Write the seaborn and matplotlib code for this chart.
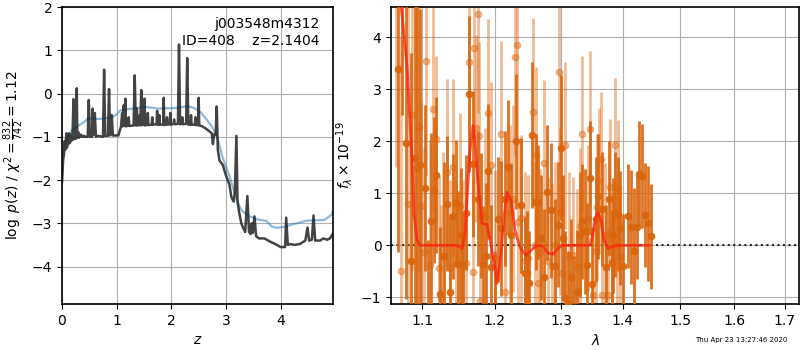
import time
import numpy as np
import pandas as pd
import matplotlib
matplotlib.use("Agg")
import matplotlib.pyplot as plt
from matplotlib.ticker import FixedLocator, FixedFormatter, NullLocator
import seaborn as sns

# ---------------- redshift probability ----------------
z_grid = [0.00, 0.02, 0.04, 0.05, 0.06, 0.08, 0.09, 0.11, 0.13, 0.14, 0.16, 0.18, 0.19,
          0.21, 0.22, 0.24, 0.25, 0.27, 0.28, 0.30, 0.31, 0.35, 0.36, 0.40, 0.41, 0.47,
          0.49, 0.51, 0.55, 0.56, 0.58, 0.60, 0.62, 0.66, 0.75, 0.77, 0.79, 0.84, 0.86,
          0.88, 0.91, 0.93, 1.03, 1.07, 1.08, 1.10, 1.11, 1.13, 1.14, 1.16, 1.17, 1.21,
          1.22, 1.23, 1.31, 1.33, 1.35, 1.37, 1.38, 1.41, 1.42, 1.43, 1.45, 1.47, 1.50,
          1.51, 1.52, 1.56, 1.57, 1.58, 1.64, 1.65, 1.66, 1.73, 1.74, 1.75, 1.77, 1.78,
          1.79, 1.85, 1.86, 1.87, 1.91, 1.92, 1.93, 1.97, 1.98, 1.99, 2.04, 2.05, 2.06,
          2.12, 2.14, 2.16, 2.19, 2.20, 2.21, 2.27, 2.29, 2.31, 2.35, 2.36, 2.37, 2.43,
          2.44, 2.45, 2.49, 2.50, 2.51, 2.55, 2.62, 2.69, 2.74, 2.76, 2.78, 2.81, 2.83,
          2.85, 2.88, 2.94, 3.00, 3.06, 3.10, 3.14, 3.16, 3.19, 3.21, 3.24, 3.28, 3.31,
          3.35, 3.39, 3.42, 3.45, 3.47, 3.49, 3.52, 3.55, 3.60, 3.70, 3.80, 3.90, 4.00,
          4.08, 4.10, 4.13, 4.17, 4.25, 4.35, 4.45, 4.49, 4.52, 4.57, 4.60, 4.63, 4.72,
          4.78, 4.85, 4.90, 4.96]
log_pz = [-2.05, -1.55, -1.35, -1.10, -1.30, -0.92, -1.25, -1.15, -0.92, -1.15, -1.10, -0.95, -1.08,
          -0.13, -1.05, -0.95, -1.05, 0.12, -1.02, -0.90, -1.02, -0.95, -1.00, -0.98, -1.00, -1.00,
          -0.15, -1.00, -1.00, -0.35, -0.95, -0.45, -1.00, -0.98, -1.00, 0.55, -0.98, -0.98, 0.10,
          -0.97, -0.50, -0.97, -0.97, -0.80, -0.76, -0.45, -0.76, -0.27, -0.75, -0.12, -0.76, -0.74,
          -0.55, -0.75, -0.74, 0.42, -0.74, -0.35, -0.74, -0.72, -0.50, -0.74, 0.08, -0.73, -0.72,
          -0.12, -0.74, -0.72, -0.45, -0.73, -0.72, -0.55, -0.72, -0.71, -0.40, -0.72, -0.72, -0.50,
          -0.72, -0.72, -0.10, -0.73, -0.71, -0.55, -0.72, -0.71, -0.45, -0.72, -0.70, -0.60, -0.71,
          -0.70, 1.13, -0.71, -0.70, -0.55, -0.71, -0.70, 0.82, -0.72, -0.72, -0.50, -0.72, -0.72,
          -0.55, -0.73, -0.73, -0.10, -0.74, -0.75, -0.80, -0.87, -0.92, -1.17, -0.95, -0.95, -0.30,
          -1.30, -1.55, -1.65, -1.90, -2.10, -2.40, -2.50, -2.30, -0.98, -2.50, -2.75, -3.00, -3.10,
          -3.20, -2.37, -3.20, -3.25, -3.00, -3.22, -2.84, -3.30, -3.35, -3.35, -3.42, -3.48, -3.55,
          -3.55, -2.87, -3.50, -3.48, -3.50, -3.48, -3.40, -3.10, -3.40, -3.38, -2.82, -3.40, -3.40,
          -3.35, -3.38, -3.35, -3.23]

z_chi = [0.00, 0.05, 0.11, 0.18, 0.26, 0.35, 0.41, 0.47, 0.55, 0.68, 0.80, 0.92, 0.98, 1.07,
         1.15, 1.28, 1.40, 1.53, 1.65, 1.77, 1.90, 2.01, 2.12, 2.26, 2.36, 2.44, 2.55, 2.63,
         2.72, 2.81, 2.87, 2.93, 3.00, 3.06, 3.15, 3.24, 3.30, 3.37, 3.45, 3.55, 3.65, 3.73,
         3.78, 3.83, 3.90, 3.98, 4.08, 4.17, 4.30, 4.47, 4.60, 4.72, 4.80, 4.87, 4.93, 4.96]
log_chi = [-1.45, -1.20, -1.00, -0.85, -0.78, -0.70, -0.66, -0.58, -0.58, -0.59, -0.57, -0.55,
           -0.50, -0.39, -0.37, -0.35, -0.33, -0.31, -0.33, -0.35, -0.34, -0.34, -0.33, -0.30,
           -0.31, -0.35, -0.45, -0.58, -0.72, -0.92, -1.15, -1.45, -1.70, -1.90, -2.27, -2.60,
           -2.72, -2.79, -2.85, -2.90, -2.93, -2.94, -3.00, -3.07, -3.10, -3.10, -3.08, -3.04,
           -3.00, -2.94, -2.93, -2.93, -2.92, -2.86, -2.80, -2.71]

# ---------------- grism spectrum ----------------
wave_a = [1.0688, 1.0740, 1.0791, 1.0850, 1.0908, 1.0934, 1.0974, 1.1040, 1.1080, 1.1119,
          1.1159, 1.1186, 1.1240, 1.1290, 1.1330, 1.1376, 1.1417, 1.1458, 1.1490, 1.1527,
          1.1560, 1.1596, 1.1638, 1.1694, 1.1760, 1.1807, 1.1835, 1.1878, 1.1907, 1.1950,
          1.2000, 1.2050, 1.2094, 1.2150, 1.2200, 1.2240, 1.2313, 1.2387, 1.2447, 1.2477,
          1.2510, 1.2552, 1.2612, 1.2643, 1.2688, 1.2730, 1.2780, 1.2841, 1.2900, 1.2950,
          1.2997, 1.3028, 1.3059, 1.3100, 1.3150, 1.3200, 1.3250, 1.3290, 1.3329, 1.3377,
          1.3410, 1.3458, 1.3491, 1.3550, 1.3588, 1.3650, 1.3720, 1.3768, 1.3818, 1.3835,
          1.3870, 1.3918, 1.3951, 1.4000, 1.4086, 1.4137, 1.4190, 1.4239, 1.4274, 1.4325,
          1.4377, 1.4429, 1.4481]
flux_a = [3.38, 5.50, 1.96, -0.30, 1.67, 1.48, 1.54, 1.10, -1.40, 0.46,
          1.06, 1.35, -0.94, -0.20, 0.80, -0.90, 0.56, 0.82, -0.35, 0.19,
          -0.40, 0.63, 2.90, 1.56, 0.90, 0.58, -0.35, -0.21, 1.42, -0.42,
          -1.30, 0.50, 0.33, 0.90, 1.50, 0.19, 2.00, 0.77, -0.54, -0.54,
          -0.73, 2.12, 0.83, 0.83, 0.15, -0.60, 1.02, 0.67, -0.40, 0.40,
          1.88, 0.15, -1.02, -1.10, -0.60, -1.20, -0.90, 0.20, 0.46, 0.27,
          -0.38, 1.29, -0.75, 0.50, 0.94, 0.70, -0.42, 0.90, -0.33, 0.19,
          0.60, 0.60, 0.33, -0.40, 0.56, 0.35, -0.10, 0.35, 1.38, 1.33,
          0.58, 0.42, 0.17]
err_a = [3.5, 3.0, 3.0, 4.0, 3.0, 3.5, 3.0, 1.6, 1.5, 1.7,
         1.4, 1.5, 1.3, 1.8, 1.3, 1.5, 1.2, 1.2, 1.4, 1.3,
         1.0, 1.1, 1.5, 1.4, 1.3, 1.2, 1.1, 1.4, 1.3, 1.2,
         1.2, 1.2, 1.3, 1.3, 1.3, 1.4, 1.3, 1.3, 1.1, 1.2,
         1.0, 1.4, 1.3, 1.1, 1.2, 1.3, 1.3, 1.3, 1.3, 1.2,
         1.4, 1.2, 1.3, 1.0, 1.1, 1.0, 1.2, 1.2, 1.1, 1.2,
         1.2, 1.1, 1.1, 1.2, 1.2, 1.1, 1.2, 1.1, 1.0, 1.1,
         1.2, 1.1, 1.1, 1.0, 1.0, 1.1, 1.2, 1.0, 1.0, 1.0,
         1.0, 1.1, 1.0]

wave_b = [1.0660, 1.0720, 1.0810, 1.0870, 1.0960, 1.0990, 1.1026, 1.1053, 1.1106, 1.1146,
          1.1186, 1.1220, 1.1254, 1.1281, 1.1335, 1.1380, 1.1417, 1.1460, 1.1513, 1.1550,
          1.1596, 1.1640, 1.1694, 1.1708, 1.1736, 1.1764, 1.1779, 1.1793, 1.1864, 1.1900,
          1.1950, 1.2000, 1.2094, 1.2150, 1.2225, 1.2269, 1.2299, 1.2328, 1.2343, 1.2387,
          1.2440, 1.2492, 1.2560, 1.2597, 1.2612, 1.2643, 1.2673, 1.2734, 1.2800, 1.2850,
          1.2903, 1.2966, 1.2981, 1.3012, 1.3059, 1.3120, 1.3185, 1.3248, 1.3296, 1.3329,
          1.3425, 1.3458, 1.3500, 1.3554, 1.3571, 1.3604, 1.3637, 1.3653, 1.3703, 1.3752,
          1.3785, 1.3818, 1.3868, 1.3900, 1.3918, 1.3951]
flux_b = [5.00, -0.50, 0.80, 2.50, 2.27, 0.75, -0.12, 3.54, -0.37, 2.62,
          2.04, -0.44, -1.02, -0.21, 1.40, -0.44, 1.50, -0.35, 0.75, -0.35,
          -0.33, 3.52, -0.52, 3.79, 2.25, 4.44, 2.10, -1.06, 0.56, 2.54,
          1.54, -0.25, 2.13, -0.90, 0.62, 0.90, 3.62, 3.85, 0.44, 0.52,
          -0.30, -0.25, 2.56, 0.00, 1.73, -0.73, -0.13, 1.58, -0.30, -0.40,
          0.00, 3.33, 0.65, -0.54, 1.92, -0.20, -0.19, -0.42, 0.38, 2.13,
          0.52, 2.23, -0.96, -0.10, 0.73, 1.23, 1.65, -0.96, 0.19, -0.96,
          1.12, -0.29, 1.92, 0.00, 1.10, -0.23]
err_b = [3.5, 4.5, 4.0, 3.0, 2.8, 2.0, 2.0, 2.2, 2.4, 2.0,
         1.6, 1.8, 1.8, 2.0, 1.8, 1.7, 1.7, 1.6, 1.8, 1.6,
         1.7, 1.9, 1.8, 1.8, 1.8, 1.9, 1.8, 1.7, 1.7, 1.8,
         1.6, 1.7, 1.8, 1.6, 1.7, 1.8, 1.9, 1.8, 1.6, 1.6,
         1.7, 1.6, 1.8, 1.6, 1.7, 1.6, 1.6, 1.6, 1.6, 1.6,
         1.6, 1.8, 1.6, 1.5, 1.6, 1.6, 1.5, 1.5, 1.5, 1.5,
         1.4, 1.5, 1.4, 1.4, 1.4, 1.4, 1.3, 1.4, 1.4, 1.3,
         1.3, 1.3, 1.3, 1.3, 1.3, 1.3]

wave_model = [1.0700, 1.0739, 1.0804, 1.0869, 1.0895, 1.0934, 1.0974, 1.1100, 1.1300, 1.1450,
              1.1500, 1.1541, 1.1580, 1.1610, 1.1652, 1.1694, 1.1722, 1.1764, 1.1821, 1.1892,
              1.1935, 1.2007, 1.2036, 1.2094, 1.2137, 1.2181, 1.2240, 1.2299, 1.2373, 1.2462,
              1.2552, 1.2628, 1.2719, 1.2795, 1.2873, 1.2950, 1.3012, 1.3200, 1.3458, 1.3506,
              1.3554, 1.3588, 1.3637, 1.3686, 1.3752, 1.3835, 1.3901, 1.4200, 1.4463]
flux_model = [4.90, 4.42, 3.42, 1.63, 0.60, 0.10, 0.00, 0.00, 0.00, 0.00,
              -0.02, -0.06, 0.20, 0.87, 1.83, 2.30, 2.00, 1.20, 0.42, 0.40,
              0.10, -0.42, -0.73, -0.15, 0.54, 1.02, 0.87, 0.29, -0.04, -0.19,
              -0.08, 0.00, -0.02, -0.15, -0.17, -0.06, 0.00, 0.00, 0.00, 0.23,
              0.54, 0.63, 0.48, 0.10, -0.06, -0.02, 0.00, 0.00, 0.00]

# ---------------- labels ----------------
field_name = "j003548m4312"
source_id = 408
z_best = 2.1404
chi2_num, chi2_den = 832, 742
wave_ticks = [1.1, 1.2, 1.3, 1.4, 1.5, 1.6, 1.7]

sns.set_style("ticks", {"axes.grid": True, "grid.color": "#b0b0b0",
                        "axes.edgecolor": "black", "xtick.color": "black",
                        "ytick.color": "black", "text.color": "black",
                        "axes.labelcolor": "black"})
plt.rcParams["font.family"] = ["DejaVu Sans"]
plt.rcParams["font.size"] = 10
plt.rcParams["mathtext.fontset"] = "dejavusans"

fig = plt.figure(figsize=(8, 3.5), dpi=100)
ax1 = fig.add_axes([0.0775, 0.131, 0.339, 0.849])
ax2 = fig.add_axes([0.489, 0.131, 0.510, 0.849])

# left: log p(z)
df_pz = pd.DataFrame({"z": z_grid, "logp": log_pz})
df_chi = pd.DataFrame({"z": z_chi, "logp": log_chi})
sns.lineplot(data=df_chi, x="z", y="logp", ax=ax1, color="#1f77b4", alpha=0.5,
             linewidth=1.6, sort=False, estimator=None)
sns.lineplot(data=df_pz, x="z", y="logp", ax=ax1, color="#222222", alpha=0.85,
             linewidth=1.8, sort=False, estimator=None)
ax1.set_xlim(0, 4.96)
ax1.set_ylim(-4.87, 2.0)
ax1.set_xlabel(r"$z$")
ax1.set_ylabel(r"$\log\ p(z)$ / $\chi^2=\frac{%d}{%d}=%.2f$"
               % (chi2_num, chi2_den, chi2_num / chi2_den))
ax1.text(0.95, 0.965, "%s\nID=%d    z=%.4f" % (field_name, source_id, z_best),
         transform=ax1.transAxes, ha="right", va="top", fontsize=10)
ax1.grid(True, color="#b0b0b0", linewidth=0.8)

# right: spectrum
ax2.axhline(0, color="k", linestyle=":", linewidth=1.5, alpha=0.8, zorder=1)
ax2.errorbar(wave_b, flux_b, yerr=err_b, marker="o", markersize=4.5, linestyle="none",
             color="#e06a10", alpha=0.45, elinewidth=2, capsize=0, zorder=2)
ax2.errorbar(wave_a, flux_a, yerr=err_a, marker="o", markersize=4.5, linestyle="none",
             color="#d9650c", alpha=0.9, elinewidth=2, capsize=0, zorder=3)
df_model = pd.DataFrame({"wave": wave_model, "flux": flux_model})
sns.lineplot(data=df_model, x="wave", y="flux", ax=ax2, color="#ff2010", alpha=0.75,
             linewidth=2, sort=False, estimator=None, zorder=4)
ax2.set_xscale("log")
ax2.set_xlim(1.06, 1.73)
ax2.set_ylim(-1.13, 4.58)
ax2.xaxis.set_major_locator(FixedLocator(wave_ticks))
ax2.xaxis.set_major_formatter(FixedFormatter(["%.1f" % w for w in wave_ticks]))
ax2.xaxis.set_minor_locator(NullLocator())
ax2.set_xlabel(r"$\lambda$")
ax2.set_ylabel(r"$f_\lambda \times 10^{-19}$")
ax2.grid(True, color="#b0b0b0", linewidth=0.8)

for ax in (ax1, ax2):
    for s in ax.spines.values():
        s.set_color("black")
        s.set_linewidth(1.2)
    ax.tick_params(direction="out", length=3.5, width=0.8)

fig.text(0.984, 0.02, "Thu Apr 23 13:27:46 2020", ha="right", va="bottom", fontsize=5)

fig.savefig("out.png", dpi=100)
